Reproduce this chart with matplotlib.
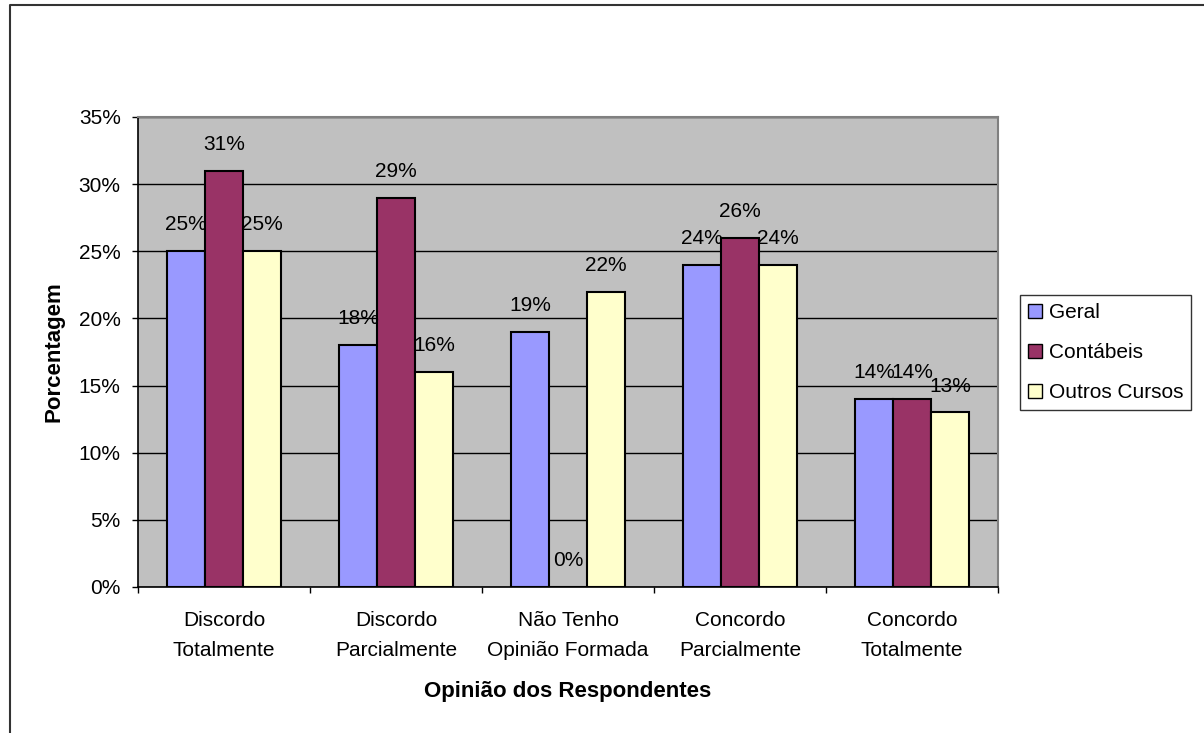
import numpy as np
import matplotlib
matplotlib.use('Agg')
import matplotlib.pyplot as plt
from matplotlib.lines import Line2D
from matplotlib.patches import Patch

plt.rcParams['font.family'] = ['Liberation Sans', 'DejaVu Sans']

categories = ['Discordo\nTotalmente', 'Discordo\nParcialmente', 'Não Tenho\nOpinião Formada',
              'Concordo\nParcialmente', 'Concordo\nTotalmente']
series_names = ['Geral', 'Contábeis', 'Outros Cursos']
geral = [25, 18, 19, 24, 14]
contabeis = [31, 29, 0, 26, 14]
outros = [25, 16, 22, 24, 13]
colors = ['#9999FF', '#993366', '#FFFFCC']

FS = 15

fig = plt.figure(figsize=(12.04, 7.33), dpi=100)
ax = fig.add_axes([138 / 1204, 1 - 587 / 733, 860 / 1204, 470 / 733])
ax.set_facecolor('#C0C0C0')

x = np.arange(len(categories))
width = 0.222
for i, (vals, col) in enumerate(zip([geral, contabeis, outros], colors)):
    pos = x + (i - 1) * width
    ax.bar(pos, vals, width, color=col, edgecolor='black', linewidth=1.5, zorder=3)
    for p, v in zip(pos, vals):
        ax.annotate('{}%'.format(v), (p, v), xytext=(0, 19), textcoords='offset points',
                    ha='center', va='center', fontsize=FS, zorder=4)

ax.set_xlim(-0.5, len(categories) - 0.5)
ax.set_ylim(0, 35)
ax.set_yticks(range(0, 36, 5))
ax.set_yticklabels(['{}%'.format(t) for t in range(0, 36, 5)], fontsize=FS)
ax.yaxis.grid(True, color='black', linewidth=1, zorder=1)
ax.set_axisbelow(True)

ax.set_xticks(x)
ax.set_xticklabels(categories, fontsize=FS, linespacing=1.75)
ax.tick_params(axis='x', length=0, pad=17)
ax.set_xticks(np.arange(-0.5, len(categories)), minor=True)
ax.tick_params(axis='x', which='minor', length=4.5, width=1, direction='out')
ax.tick_params(axis='y', length=4.5, width=1, direction='out', pad=8)

for side in ['top', 'right']:
    ax.spines[side].set_color('#808080')
    ax.spines[side].set_linewidth(1.5)
for side in ['left', 'bottom']:
    ax.spines[side].set_color('black')
    ax.spines[side].set_linewidth(1.2)

ax.set_ylabel('Porcentagem', fontsize=16, fontweight='bold', labelpad=10)
ax.set_xlabel('Opinião dos Respondentes', fontsize=16, fontweight='bold', labelpad=15)

handles = [Patch(facecolor=c, edgecolor='black', linewidth=1) for c in colors]
leg = fig.legend(handles, series_names, loc='upper left',
                 bbox_to_anchor=(1020 / 1204, 1 - 295 / 733), fontsize=FS,
                 frameon=True, fancybox=False, edgecolor='black',
                 handlelength=0.67, handleheight=0.67, handletextpad=0.3,
                 labelspacing=1.0, borderpad=0.4, borderaxespad=0)
leg.get_frame().set_linewidth(1)

# outer chart frame (left and top edges)
fig.add_artist(Line2D([10 / 1204, 10 / 1204, 1], [0, 1 - 5 / 733, 1 - 5 / 733],
                      color='#333333', linewidth=1.5, transform=fig.transFigure))

fig.savefig('out.png', dpi=100)
